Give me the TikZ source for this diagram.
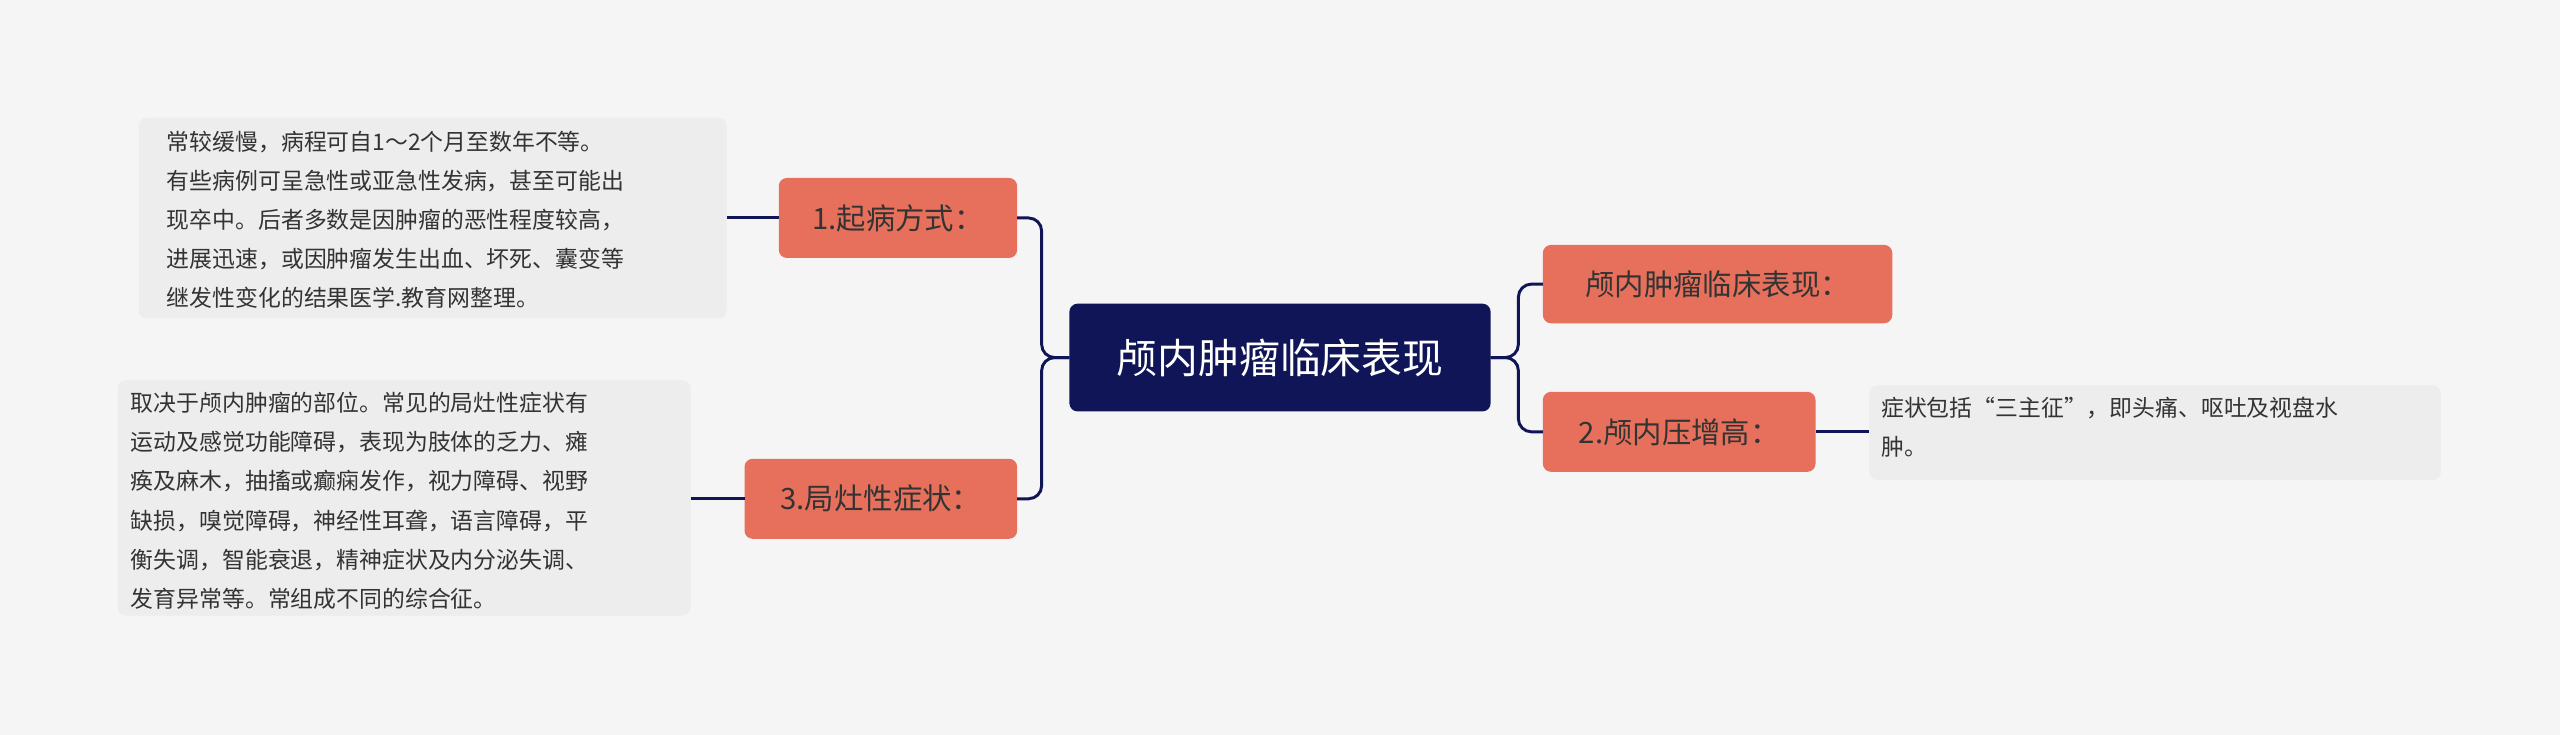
\documentclass[tikz,border=0pt]{standalone}
\usepackage{fontspec}
\setmainfont{Noto Sans CJK SC}
\begin{document}
\begin{tikzpicture}[x=1pt,y=-1pt,
  topic/.style={draw=#1,fill=#1,rounded corners=5pt,anchor=north west,inner sep=0pt},
  conn/.style={draw=navy,line width=1.8pt,rounded corners=8pt},
  det/.style={fill=boxgray,rounded corners=5pt},
  dtext/.style={anchor=north west,align=left,font=\fontsize{14}{24}\selectfont,text=txt,inner sep=0pt}]
\definecolor{navy}{HTML}{0F1557}
\definecolor{salmon}{HTML}{E6705B}
\definecolor{boxgray}{HTML}{EDEDED}
\definecolor{bg}{HTML}{F5F5F5}
\definecolor{txt}{HTML}{333333}
\fill[bg] (0,0) rectangle (1568,450);
\useasboundingbox (0,0) rectangle (1568,450);
% central
\fill[navy,rounded corners=5pt] (655,186) rectangle (913,252);
\node[text=white,font=\fontsize{25}{30}\selectfont] (c) at (784,219) {颅内肿瘤临床表现};
\coordinate (cl) at (655,219); \coordinate (cr) at (913,219);
% topics
\fill[salmon,rounded corners=5pt] (477,109) rectangle (623,158);
\node[font=\fontsize{18}{22}\selectfont,text=txt] (t1) at (550,133.5) {1.起病方式：};
\fill[salmon,rounded corners=5pt] (456,281) rectangle (623,330);
\node[font=\fontsize{18}{22}\selectfont,text=txt] (t3) at (539.5,305.5) {3.局灶性症状：};
\fill[salmon,rounded corners=5pt] (945,150) rectangle (1159,198);
\node[font=\fontsize{18}{22}\selectfont,text=txt] (tr) at (1052,174) {颅内肿瘤临床表现：};
\fill[salmon,rounded corners=5pt] (945,240) rectangle (1112,289);
\node[font=\fontsize{18}{22}\selectfont,text=txt] (t2) at (1028.5,264.5) {2.颅内压增高：};
\coordinate (t1r) at (623,133.5); \coordinate (t1l) at (477,133.5);
\coordinate (t3r) at (623,305.5); \coordinate (t3l) at (456,305.5);
\coordinate (trl) at (945,174); \coordinate (t2l) at (945,264.5); \coordinate (t2r) at (1112,264.5);
% details
\fill[boxgray,rounded corners=5pt] (85,72) rectangle (445,195);
\node[dtext] (d1) at (102,80) {常较缓慢，病程可自1～2个月至数年不等。\\有些病例可呈急性或亚急性发病，甚至可能出\\现卒中。后者多数是因肿瘤的恶性程度较高，\\进展迅速，或因肿瘤发生出血、坏死、囊变等\\继发性变化的结果医学.教育网整理。};
\fill[boxgray,rounded corners=5pt] (72,233) rectangle (423,377);
\node[dtext] (d3) at (80,240) {取决于颅内肿瘤的部位。常见的局灶性症状有\\运动及感觉功能障碍，表现为肢体的乏力、瘫\\痪及麻木，抽搐或癫痫发作，视力障碍、视野\\缺损，嗅觉障碍，神经性耳聋，语言障碍，平\\衡失调，智能衰退，精神症状及内分泌失调、\\发育异常等。常组成不同的综合征。};
\fill[boxgray,rounded corners=5pt] (1145,236) rectangle (1495,294);
\node[dtext] (d2) at (1152,243) {症状包括“三主征”，即头痛、呕吐及视盘水\\肿。};
\coordinate (d1r) at (445,133.5); \coordinate (d3r) at (423,305.5); \coordinate (d2l) at (1145,264.5);
% connectors
\draw[conn] (cl) -- (638,219) |- (t1r);
\draw[conn] (cl) -- (638,219) |- (t3r);
\draw[conn] (cr) -- (930,219) |- (trl);
\draw[conn] (cr) -- (930,219) |- (t2l);
\draw[conn] (d1r) -- (t1l);
\draw[conn] (d3r) -- (t3l);
\draw[conn] (t2r) -- (d2l);
\end{tikzpicture}
\end{document}
